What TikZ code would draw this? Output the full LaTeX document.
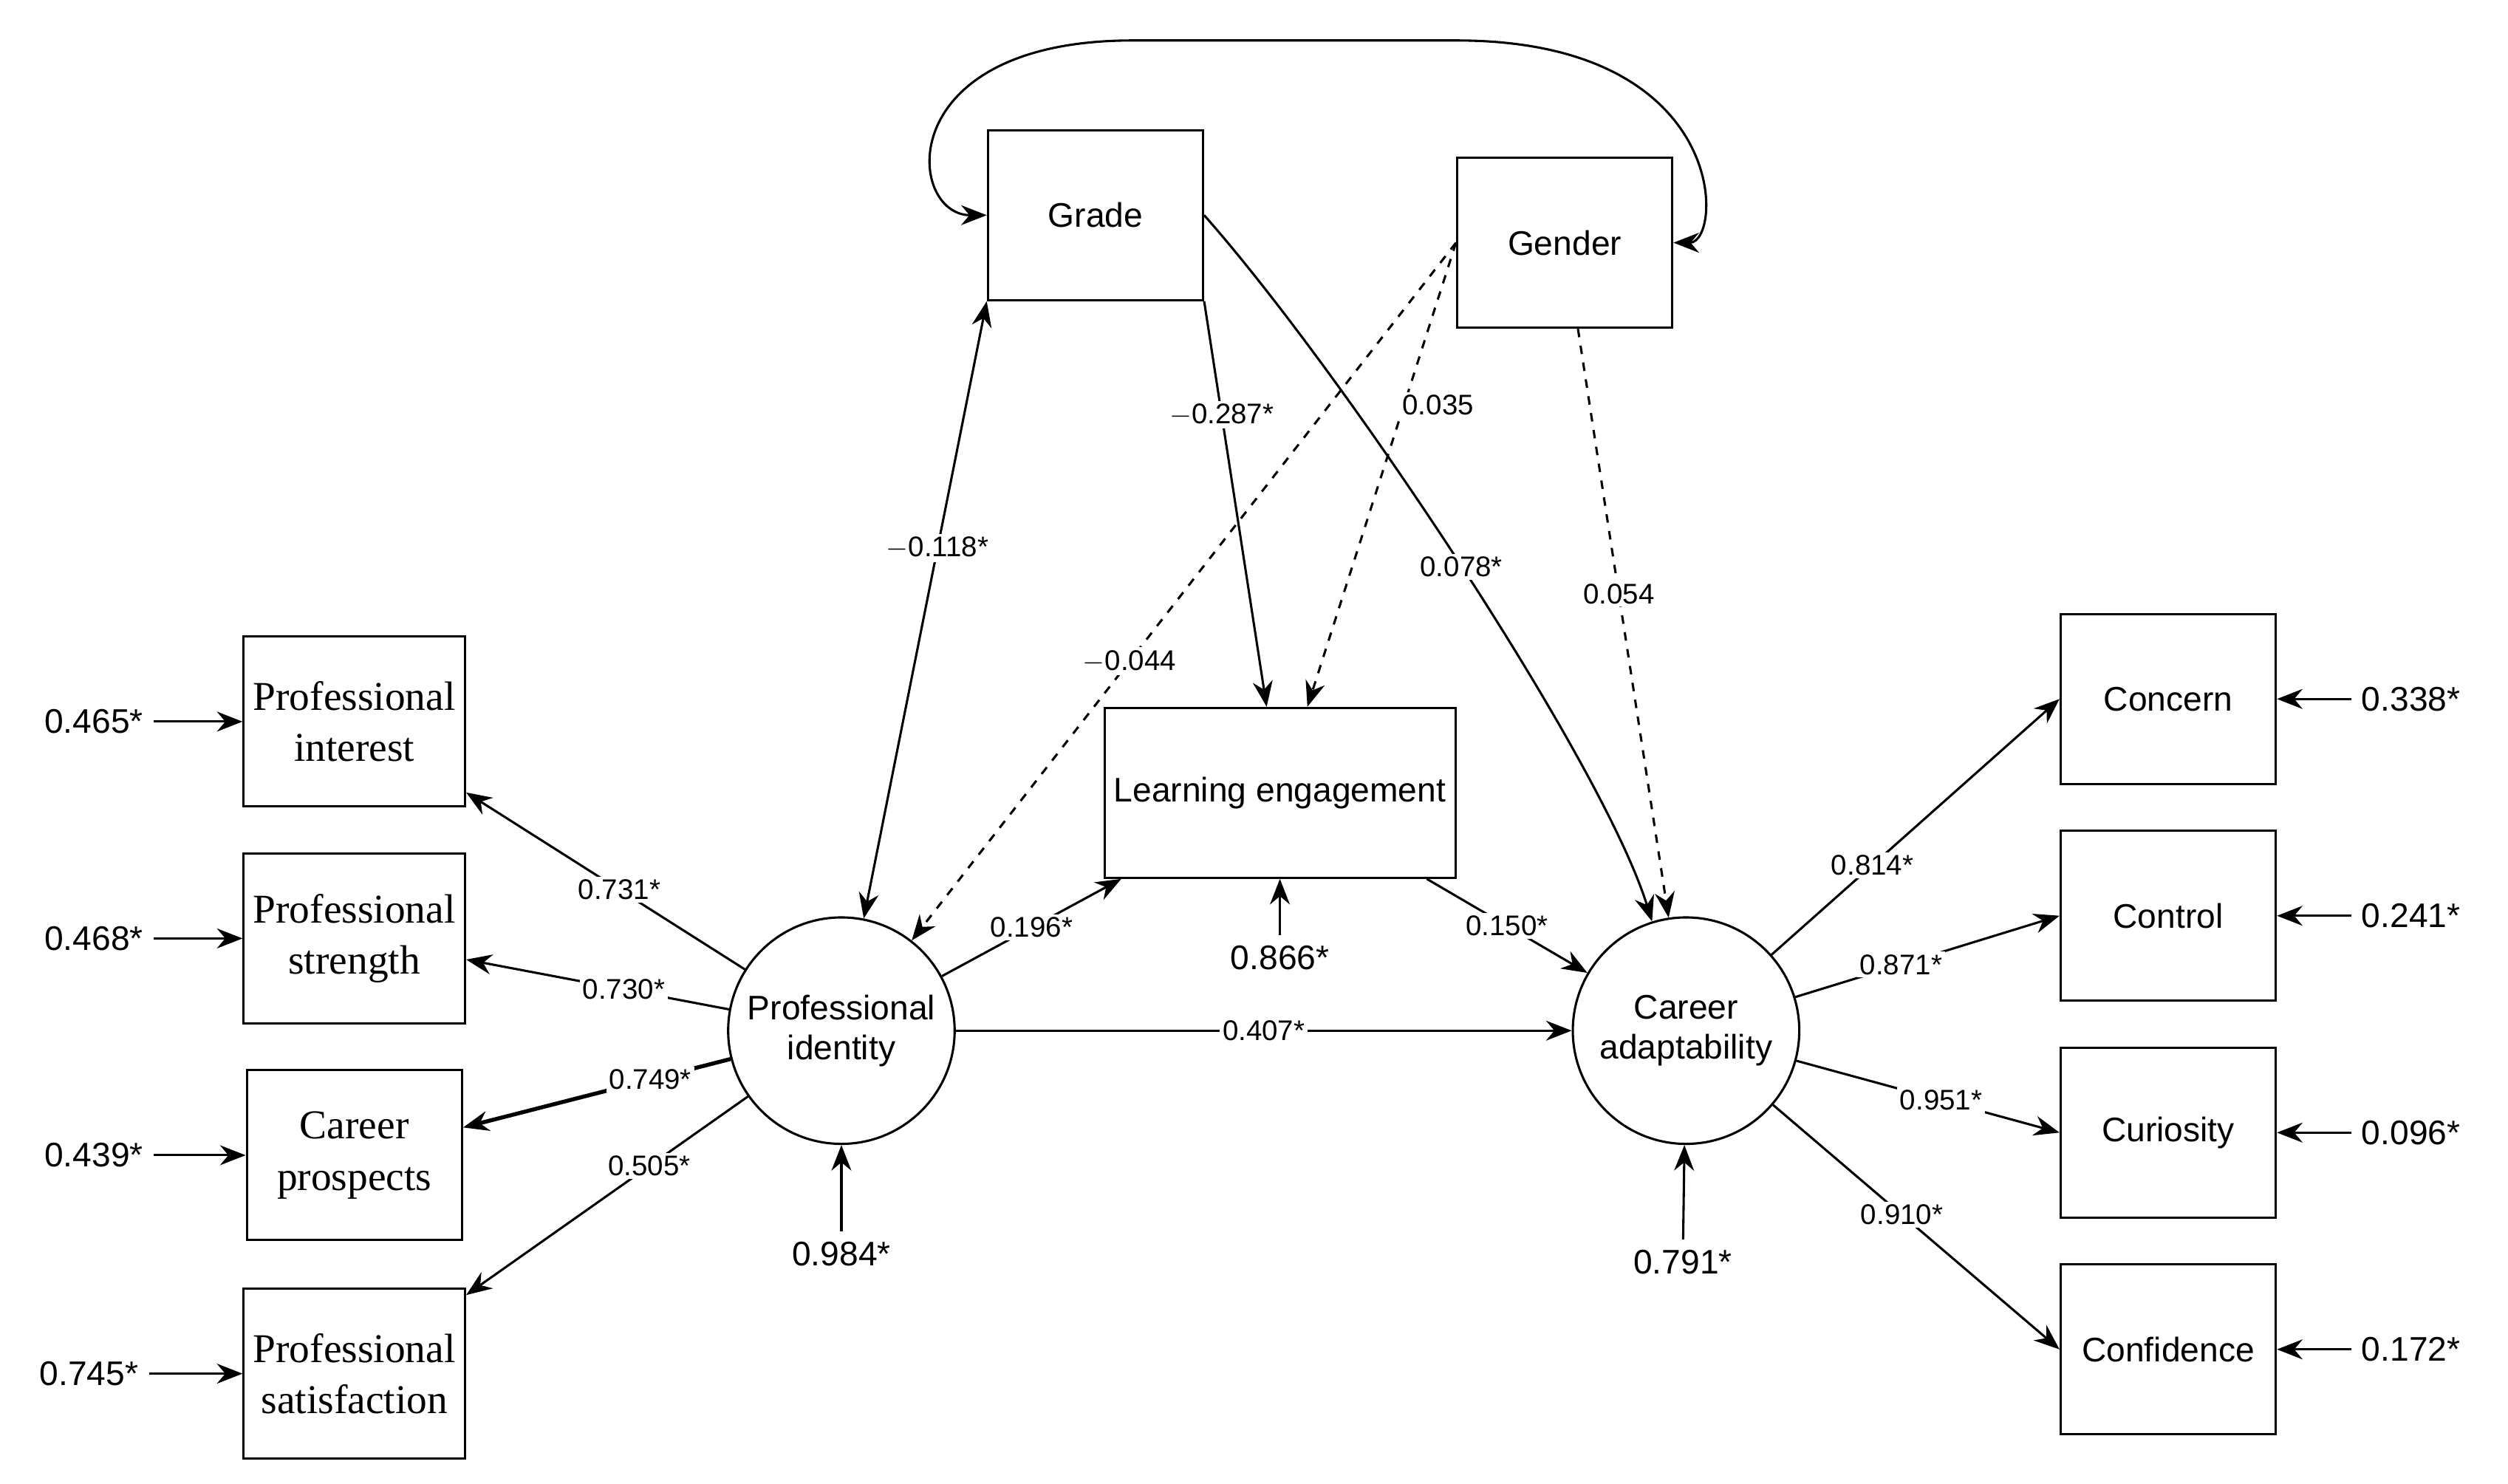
\documentclass[tikz,border=0pt]{standalone}
\usepackage{fontspec}
\setmainfont{Liberation Sans}
\newfontfamily\serifbox{Liberation Serif}
\usetikzlibrary{arrows.meta}
\begin{document}
\begin{tikzpicture}[x=0.02cm, y=-0.02cm, thick, >={Stealth[length=9pt, width=7pt]},
    box/.style = {draw, minimum width=2.66cm, minimum height=2.1cm, align=center, font=\large},
    sbox/.style = {box, font=\serifbox\Large},
    lat/.style = {draw, circle, minimum size=2.8cm, align=center, font=\large},
    lbl/.style = {fill=white, inner sep=1pt, font=\normalsize},
    err/.style = {font=\large}]
        \useasboundingbox (0,0) rectangle (1550,917);
        \node[box] (G) at (677,133) {Grade};
        \node[box] (S) at (967,150) {Gender};
        \node[box, minimum width=4.3cm] (LE) at (791,490) {Learning engagement};
        \node[lat] (PI) at (520,637) {Professional\\identity};
        \node[lat] (CA) at (1042,637) {Career\\adaptability};

        \node[sbox] (PIn) at (219,446) {Professional\\interest};
        \node[sbox] (PSt) at (219,580) {Professional\\strength};
        \node[sbox] (CP) at (219,714) {Career\\prospects};
        \node[sbox] (PSa) at (219,849) {Professional\\satisfaction};
        \node[box] (Con) at (1340,432) {Concern};
        \node[box] (Ctl) at (1340,566) {Control};
        \node[box] (Cur) at (1340,700) {Curiosity};
        \node[box] (Cnf) at (1340,834) {Confidence};

        % error terms
        \node[err] (e1) at (58,446) {0.465*};
        \node[err] (e2) at (58,580) {0.468*};
        \node[err] (e3) at (58,714) {0.439*};
        \node[err] (e4) at (55,849) {0.745*};
        \node[err] (e5) at (1490,432) {0.338*};
        \node[err] (e6) at (1490,566) {0.241*};
        \node[err] (e7) at (1490,700) {0.096*};
        \node[err] (e8) at (1490,834) {0.172*};
        \node[err] (e9) at (791,592) {0.866*};
        \node[err] (e10) at (520,775) {0.984*};
        \node[err] (e11) at (1040,780) {0.791*};
        \foreach \e/\b in {e1/PIn, e2/PSt, e3/CP, e4/PSa}
            \draw[->] (\e) -- (\b);
        \foreach \e/\b in {e5/Con, e6/Ctl, e7/Cur, e8/Cnf}
            \draw[->] (\e) -- (\b);
        \draw[->] (e9) -- (LE);
        \draw[->] (e10) -- (PI);
        \draw[->] (e11) -- (CA);

        % covariance grade - gender
        \draw[<->] (G.west) .. controls (560,133) and (550,25) .. (700,25)
            -- (900,25) .. controls (1070,25) and (1065,150) .. (S.east);

        \draw[->] (PI) -- (PIn) node [lbl, pos=0.45] {0.731*};
        \draw[->] (PI) -- (PSt) node [lbl, pos=0.4] {0.730*};
        \draw[->, line width=1.4pt] (PI) -- (CP) node [lbl, pos=0.3] {0.749*};
        \draw[->] (PI) -- (PSa) node [lbl, pos=0.35] {0.505*};

        \draw[<->] (G.south west) -- (PI) node [lbl, pos=0.4] {$-$0.118*};
        \draw[->, dashed] (S.west) -- (PI) node [lbl, pos=0.6] {$-$0.044};
        \draw[->] (G.south east) -- (LE) node [lbl, pos=0.28] {$-$0.287*};
        \draw[->, dashed] (S.west) -- (LE) node [lbl, pos=0.35, xshift=12pt] {0.035};
        \draw[->] (G.east) .. controls (830,230) and (990,470) .. (CA) node [lbl, pos=0.5] {0.078*};
        \draw[->, dashed] (S) -- (CA) node [lbl, pos=0.45] {0.054};

        \draw[->] (PI) -- (LE) node [lbl, pos=0.5] {0.196*};
        \draw[->] (LE) -- (CA) node [lbl, pos=0.5] {0.150*};
        \draw[->] (PI) -- (CA) node [lbl, pos=0.5] {0.407*};

        \draw[->] (CA) -- (Con.west) node [lbl, pos=0.35] {0.814*};
        \draw[->] (CA) -- (Ctl.west) node [lbl, pos=0.4] {0.871*};
        \draw[->] (CA) -- (Cur.west) node [lbl, pos=0.55] {0.951*};
        \draw[->] (CA) -- (Cnf.west) node [lbl, pos=0.45] {0.910*};
    \end{tikzpicture}
\end{document}
